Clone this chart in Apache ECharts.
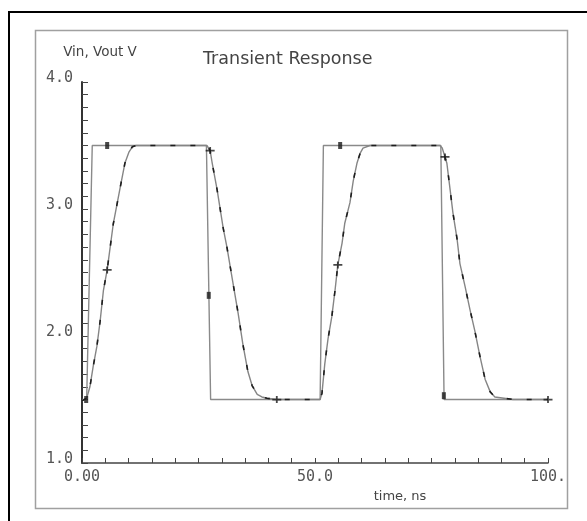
<!DOCTYPE html>
<html>
<head>
<meta charset="utf-8">
<title>Transient Response</title>
<script src="https://cdn.jsdelivr.net/npm/echarts@6/dist/echarts.min.js"></script>
<style>
  html, body { margin: 0; padding: 0; background: #ffffff; }
  #chart { width: 587px; height: 521px; }
</style>
</head>
<body>
<div id="chart"></div>
<script>
// Input pulse (time in ns, voltage in V)
const vinTime  = [0, 1.0, 2.2, 26.7, 27.6, 51.1, 51.8, 77.0, 77.7, 100];
const vinVolts = [1.5, 1.5, 3.5, 3.5, 1.5, 1.5, 3.5, 3.5, 1.5, 1.5];

// Output waveform
const voutTime = [0, 1.0, 1.7, 2.4, 3.2, 3.9, 4.6, 5.4, 6.7, 8.2, 9.2, 10.1, 10.8, 11.6,
  26.8, 27.5, 27.9, 29.0, 30.3, 31.1, 32.2, 33.5, 34.5, 35.6, 36.5, 37.6, 38.6, 39.7, 41.8,
  51.1, 51.5, 52.1, 52.8, 53.6, 54.3, 54.9, 55.8, 56.4, 57.5, 58.2, 59.0, 59.7, 60.3, 61.8,
  76.8, 77.3, 78.3, 79.0, 79.6, 80.5, 81.1, 82.2, 83.3, 84.3, 85.4, 86.5, 87.6, 88.6, 92.5, 100];
const voutVolts = [1.49, 1.51, 1.60, 1.76, 1.92, 2.12, 2.36, 2.52, 2.88, 3.17, 3.36, 3.45, 3.49, 3.50,
  3.50, 3.46, 3.37, 3.15, 2.85, 2.70, 2.46, 2.18, 1.94, 1.72, 1.61, 1.54, 1.52, 1.51, 1.50,
  1.50, 1.55, 1.78, 1.98, 2.15, 2.36, 2.56, 2.73, 2.89, 3.05, 3.22, 3.36, 3.44, 3.48, 3.50,
  3.50, 3.48, 3.36, 3.15, 2.97, 2.76, 2.57, 2.39, 2.20, 2.04, 1.84, 1.66, 1.56, 1.52, 1.50, 1.50];

// Sample markers placed along each trace
const vinMarkTime  = [0.9, 5.4, 27.2, 55.4, 77.65];
const vinMarkVolts = [1.5, 3.5, 2.32, 3.5, 1.53];
const voutMarkTime  = [5.4, 27.5, 41.8, 54.9, 77.9, 100];
const voutMarkVolts = [2.52, 3.46, 1.50, 2.56, 3.41, 1.50];

// Axis tick labels
const xTickLabels = { 0: '0.00', 50: '50.0', 100: '100.' };
const yTickLabels = { 1: '1.0', 2: '2.0', 3: '3.0', 4: '4.0' };

const zip = (a, b) => a.map((v, i) => [v, b[i]]);

const plusSymbol = 'path://M0,3h10v2h-10z M4,0h2v8h-2z';
const monoFont = '"DejaVu Sans Mono", monospace';
const sansFont = '"DejaVu Sans", sans-serif';

const chart = echarts.init(document.getElementById('chart'), null, { renderer: 'canvas' });

chart.setOption({
  backgroundColor: '#ffffff',
  animation: false,
  title: {
    text: 'Transient Response',
    left: 203,
    top: 50,
    padding: 0,
    textStyle: { fontFamily: sansFont, fontSize: 17.5, fontWeight: 'normal', color: '#444' }
  },
  graphic: [
    { type: 'rect', z: -10, silent: true,
      shape: { x: 9, y: 12, width: 620, height: 560 },
      style: { fill: 'none', stroke: '#000', lineWidth: 2 } },
    { type: 'rect', z: -10, silent: true,
      shape: { x: 35.5, y: 30.5, width: 532, height: 478 },
      style: { fill: 'none', stroke: '#a0a0a0', lineWidth: 1.5 } }
  ],
  grid: { left: 82, top: 82, right: 39, bottom: 58, containLabel: false },
  xAxis: {
    type: 'value',
    min: 0, max: 100, interval: 50,
    name: 'time, ns',
    nameLocation: 'middle',
    nameGap: 23,
    nameTextStyle: { fontFamily: sansFont, fontSize: 13, color: '#444', padding: [0, 0, 0, 170] },
    axisLine: { show: true, onZero: false, lineStyle: { color: '#444', width: 1.5 } },
    axisTick: { show: true, inside: true, length: 5, lineStyle: { color: '#444', width: 1 } },
    minorTick: { show: true, splitNumber: 10, length: 5, lineStyle: { color: '#444', width: 1 } },
    splitLine: { show: false },
    axisLabel: {
      margin: 7, fontFamily: monoFont, fontSize: 15, color: '#555',
      formatter: v => xTickLabels[v] !== undefined ? xTickLabels[v] : ''
    }
  },
  yAxis: {
    type: 'value',
    min: 1, max: 4, interval: 1,
    name: 'Vin, Vout V',
    nameLocation: 'end',
    nameGap: 23,
    nameTextStyle: { fontFamily: sansFont, fontSize: 13.5, color: '#444', padding: [0, 0, 0, 36] },
    axisLine: { show: true, onZero: false, lineStyle: { color: '#333', width: 2 } },
    axisTick: { show: true, inside: true, length: 6, lineStyle: { color: '#444', width: 1 } },
    minorTick: { show: true, splitNumber: 10, length: 6, lineStyle: { color: '#444', width: 1 } },
    splitLine: { show: false },
    axisLabel: {
      margin: 9, fontFamily: monoFont, fontSize: 15, color: '#555',
      verticalAlign: 'bottom', lineHeight: 7,
      formatter: v => yTickLabels[v] !== undefined ? yTickLabels[v] : ''
    }
  },
  series: [
    {
      name: 'Vin', type: 'line', data: zip(vinTime, vinVolts),
      showSymbol: false, smooth: false,
      lineStyle: { color: '#8a8a8a', width: 1.4 }, z: 2
    },
    {
      name: 'Vout', type: 'line', data: zip(voutTime, voutVolts),
      showSymbol: false, smooth: false,
      lineStyle: { color: '#858585', width: 1.4 }, z: 3
    },
    {
      name: 'Vout', type: 'line', data: zip(voutTime, voutVolts),
      showSymbol: false, smooth: false,
      lineStyle: { color: '#1e1e1e', width: 1.6, type: [5, 15] }, z: 4
    },
    {
      name: 'Vin', type: 'scatter', data: zip(vinMarkTime, vinMarkVolts),
      symbol: 'rect', symbolSize: [4, 7],
      itemStyle: { color: '#1a1a1a' }, z: 5
    },
    {
      name: 'Vout', type: 'scatter', data: zip(voutMarkTime, voutMarkVolts),
      symbol: plusSymbol, symbolSize: [9, 7],
      itemStyle: { color: '#1a1a1a' }, z: 5
    }
  ]
});
</script>
</body>
</html>
